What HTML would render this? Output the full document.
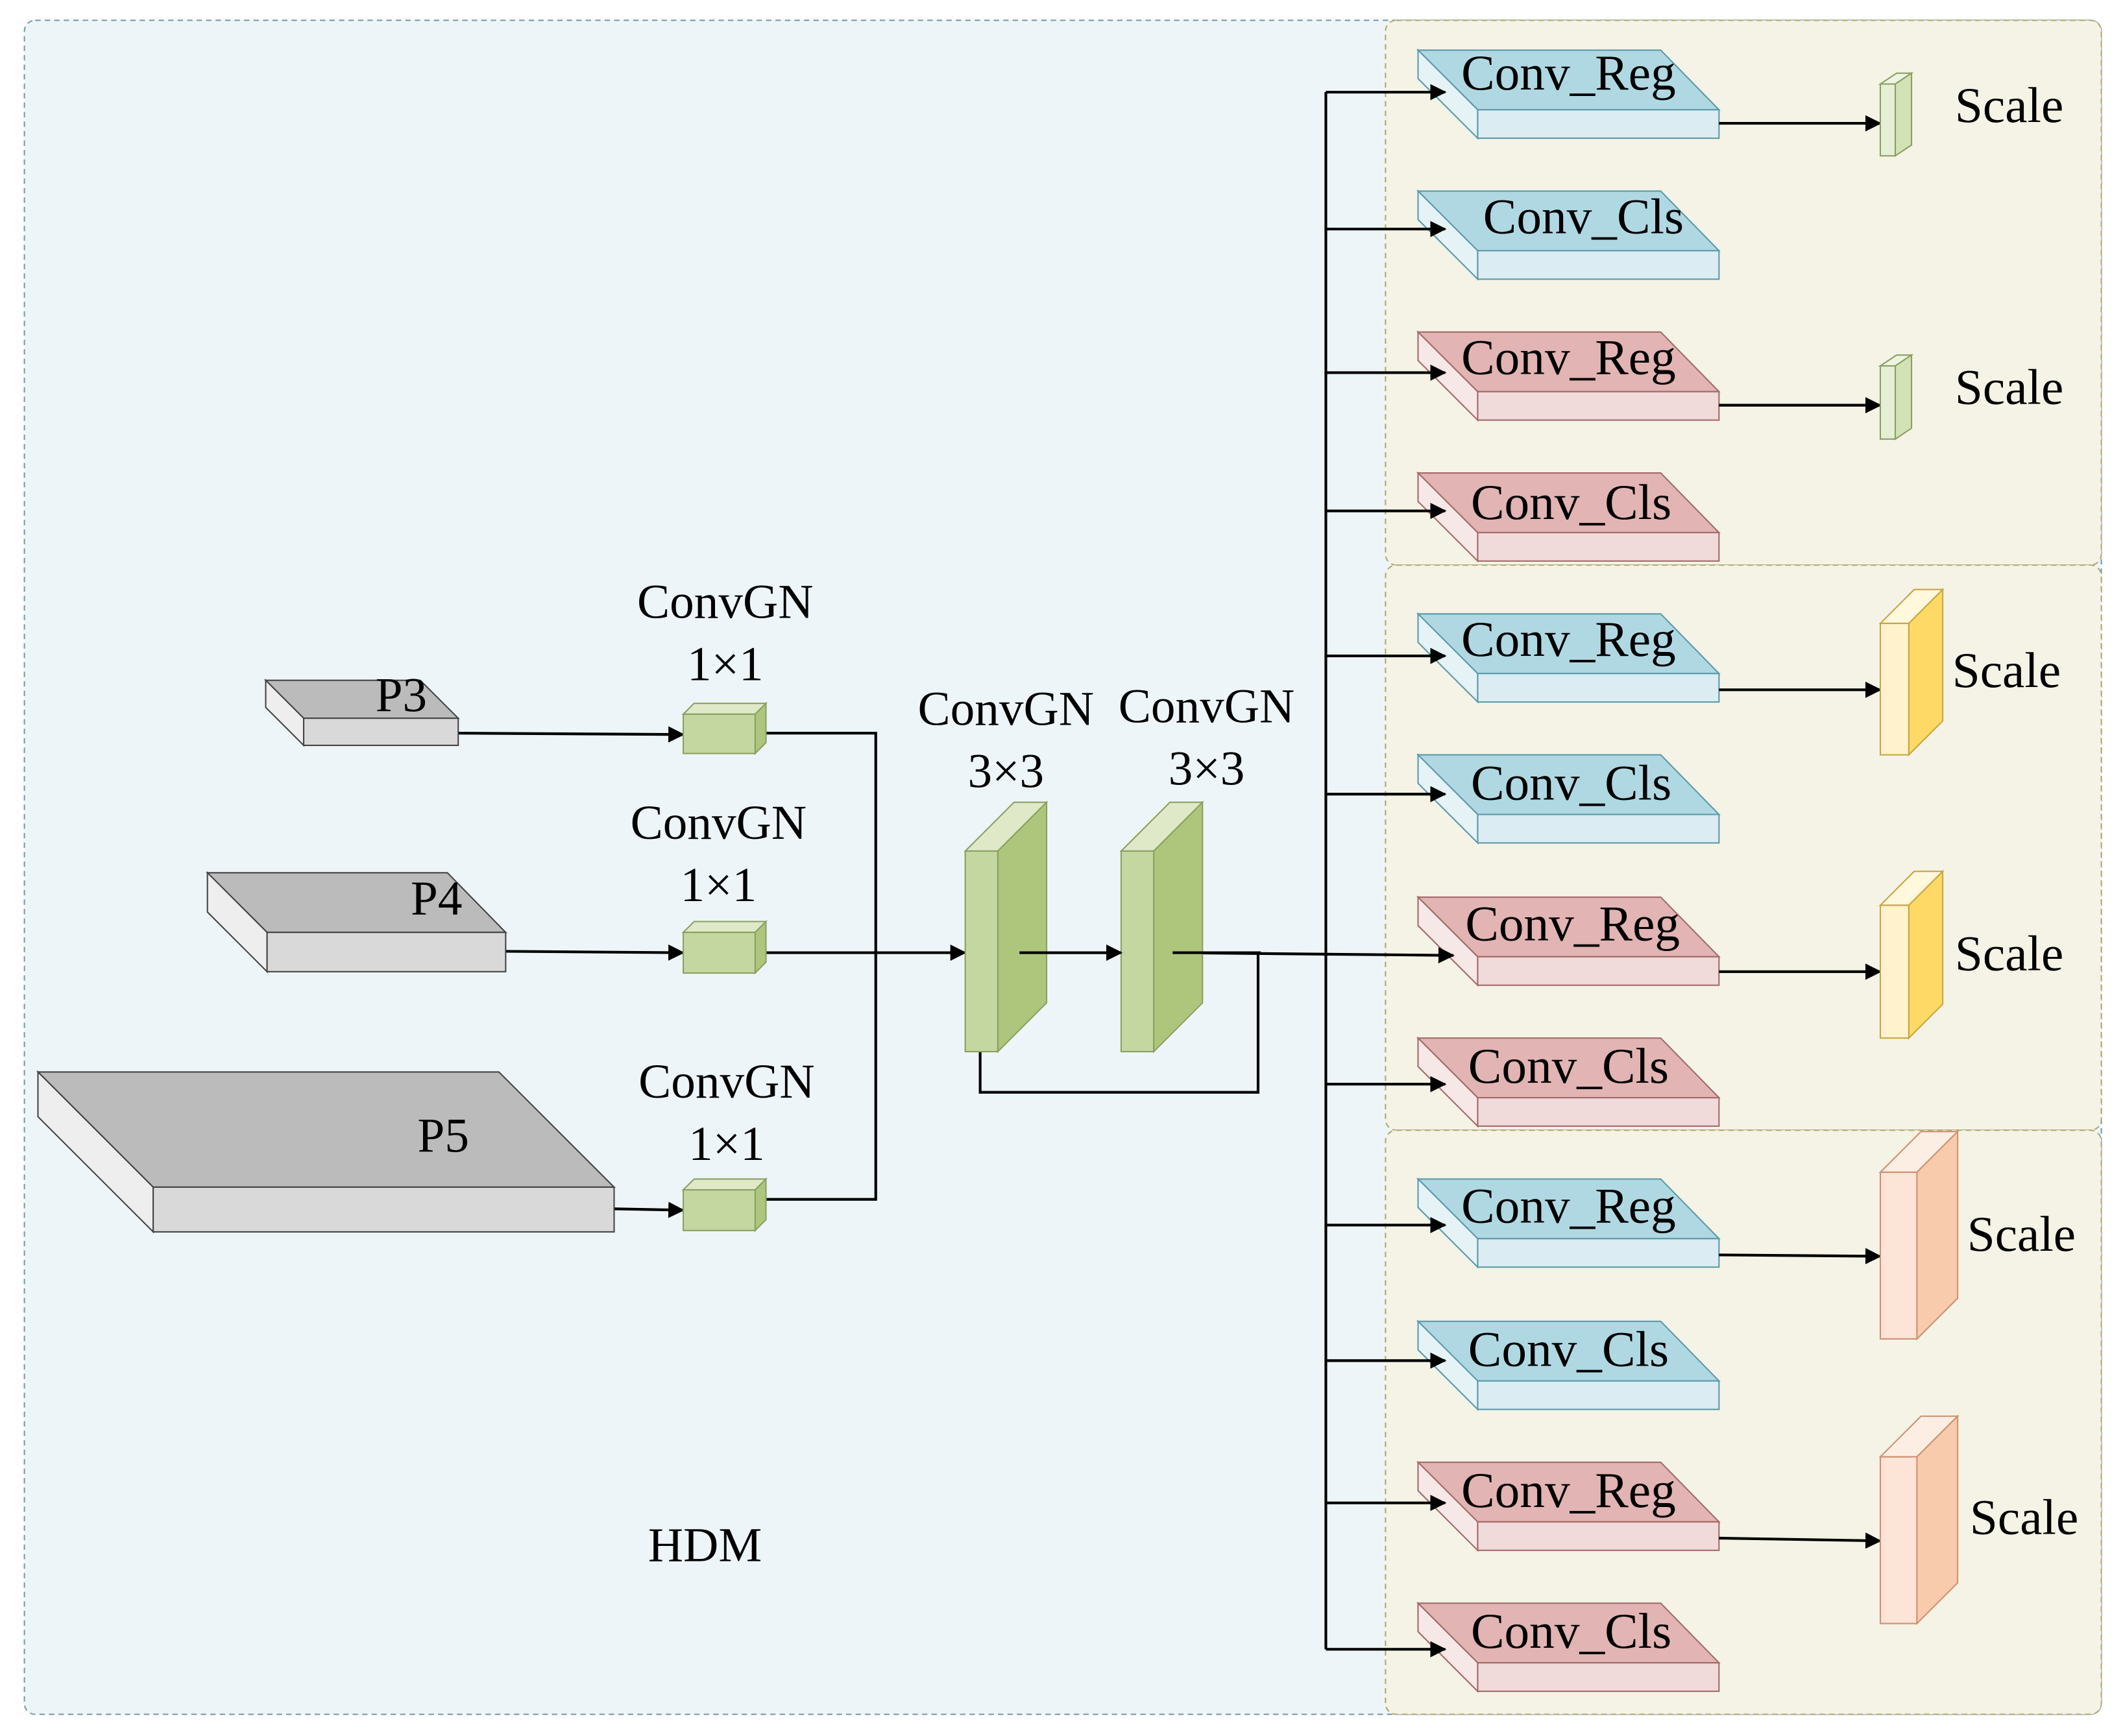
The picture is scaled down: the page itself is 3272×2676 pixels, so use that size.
<!DOCTYPE html>
<html><head><meta charset="utf-8"><style>
html,body{margin:0;padding:0;background:#fff;}
svg{display:block;}
text{font-family:"Liberation Serif",serif;fill:#000;}
</style></head><body>
<svg width="3272" height="2676" viewBox="0 0 1566 1281" preserveAspectRatio="none" xmlns="http://www.w3.org/2000/svg">
<defs>
<marker id="a" markerUnits="userSpaceOnUse" markerWidth="12" markerHeight="12" refX="11" refY="6" orient="auto">
<path d="M0,0 L12,6 L0,12 Z" fill="#000"/></marker>
<g id="blue"><path d="M1046,37 L1225,37 L1268,81 L1090,81 Z" fill="#b0d8e2" stroke="#5a9aaa" stroke-width="1"/>
<path d="M1046,37 L1090,81 L1090,102 L1046,58 Z" fill="#e6f3f6" stroke="#5a9aaa" stroke-width="1"/>
<rect x="1090" y="81" width="178" height="21" fill="#dbedf2" stroke="#5a9aaa" stroke-width="1"/></g>
<g id="red"><path d="M1046,37 L1225,37 L1268,81 L1090,81 Z" fill="#e2b4b4" stroke="#a46a6a" stroke-width="1"/>
<path d="M1046,37 L1090,81 L1090,102 L1046,58 Z" fill="#f7e8e8" stroke="#a46a6a" stroke-width="1"/>
<rect x="1090" y="81" width="178" height="21" fill="#f0dada" stroke="#a46a6a" stroke-width="1"/></g>
</defs>
<rect x="18" y="15" width="1532" height="1250" rx="8" fill="#eef5f9" stroke="#7a9aaa" stroke-dasharray="4,3"/>
<rect x="1022" y="15" width="528" height="402" rx="8" fill="#f4f3e6" stroke="#b0a870" stroke-dasharray="4,3"/>
<rect x="1022" y="417" width="528" height="417" rx="8" fill="#f4f3e6" stroke="#b0a870" stroke-dasharray="4,3"/>
<rect x="1022" y="834" width="528" height="431" rx="8" fill="#f4f3e6" stroke="#b0a870" stroke-dasharray="4,3"/>

<!-- conv blocks -->
<use href="#blue" y="0"/><use href="#blue" y="104"/><use href="#red" y="208"/><use href="#red" y="312"/>
<use href="#blue" y="416"/><use href="#blue" y="520"/><use href="#red" y="625"/><use href="#red" y="729"/>
<use href="#blue" y="833"/><use href="#blue" y="938"/><use href="#red" y="1042"/><use href="#red" y="1146"/>
<g font-size="37">
<text x="1157" y="66" text-anchor="middle">Conv_Reg</text>
<text x="1168" y="172" text-anchor="middle">Conv_Cls</text>
<text x="1157" y="276" text-anchor="middle">Conv_Reg</text>
<text x="1159" y="383" text-anchor="middle">Conv_Cls</text>
<text x="1157" y="484" text-anchor="middle">Conv_Reg</text>
<text x="1159" y="590" text-anchor="middle">Conv_Cls</text>
<text x="1160" y="694" text-anchor="middle">Conv_Reg</text>
<text x="1157" y="799" text-anchor="middle">Conv_Cls</text>
<text x="1157" y="902" text-anchor="middle">Conv_Reg</text>
<text x="1157" y="1008" text-anchor="middle">Conv_Cls</text>
<text x="1157" y="1112" text-anchor="middle">Conv_Reg</text>
<text x="1159" y="1216" text-anchor="middle">Conv_Cls</text>
</g>

<!-- bus -->
<g stroke="#000" stroke-width="2" fill="none">
<line x1="978" y1="68" x2="978" y2="1217"/>
<line x1="978" y1="68" x2="1066" y2="68" marker-end="url(#a)"/>
<line x1="978" y1="169" x2="1066" y2="169" marker-end="url(#a)"/>
<line x1="978" y1="275" x2="1066" y2="275" marker-end="url(#a)"/>
<line x1="978" y1="377" x2="1066" y2="377" marker-end="url(#a)"/>
<line x1="978" y1="484" x2="1066" y2="484" marker-end="url(#a)"/>
<line x1="978" y1="586" x2="1066" y2="586" marker-end="url(#a)"/>
<line x1="978" y1="800" x2="1066" y2="800" marker-end="url(#a)"/>
<line x1="978" y1="904" x2="1066" y2="904" marker-end="url(#a)"/>
<line x1="978" y1="1004" x2="1066" y2="1004" marker-end="url(#a)"/>
<line x1="978" y1="1109" x2="1066" y2="1109" marker-end="url(#a)"/>
<line x1="978" y1="1217" x2="1066" y2="1217" marker-end="url(#a)"/>
<line x1="865" y1="703" x2="1072" y2="705" marker-end="url(#a)"/>
<polyline points="928,703 928,806 723,806 723,776"/>
<!-- scale arrows -->
<line x1="1268" y1="91" x2="1387" y2="91" marker-end="url(#a)"/>
<line x1="1268" y1="299" x2="1387" y2="299" marker-end="url(#a)"/>
<line x1="1268" y1="509" x2="1387" y2="509" marker-end="url(#a)"/>
<line x1="1268" y1="717" x2="1387" y2="717" marker-end="url(#a)"/>
<line x1="1268" y1="926" x2="1387" y2="927" marker-end="url(#a)"/>
<line x1="1268" y1="1135" x2="1387" y2="1137" marker-end="url(#a)"/>
<!-- left -->
<line x1="338" y1="541" x2="504" y2="542" marker-end="url(#a)"/>
<line x1="373" y1="702" x2="504" y2="703" marker-end="url(#a)"/>
<line x1="453" y1="892" x2="504" y2="893" marker-end="url(#a)"/>
<polyline points="565,541 646,541 646,885 565,885"/>
<line x1="565" y1="703" x2="712" y2="703" marker-end="url(#a)"/>
<line x1="752" y1="703" x2="827" y2="703" marker-end="url(#a)"/>
</g>

<!-- scale blocks -->
<g stroke-width="1">
<path d="M1387,62 L1399,54 L1410,54 L1398,62 Z" fill="#eef3e2" stroke="#8aa060"/>
<path d="M1398,62 L1410,54 L1410,107 L1398,115 Z" fill="#d3e2b4" stroke="#8aa060"/>
<rect x="1387" y="62" width="11" height="53" fill="#e6efd6" stroke="#8aa060"/>
<path d="M1387,270 L1399,262 L1410,262 L1398,270 Z" fill="#eef3e2" stroke="#8aa060"/>
<path d="M1398,270 L1410,262 L1410,316 L1398,324 Z" fill="#d3e2b4" stroke="#8aa060"/>
<rect x="1387" y="270" width="11" height="54" fill="#e6efd6" stroke="#8aa060"/>

<path d="M1387,460 L1412,435 L1433,435 L1408,460 Z" fill="#fff8dc" stroke="#c8a640"/>
<path d="M1408,460 L1433,435 L1433,532 L1408,557 Z" fill="#ffd966" stroke="#c8a640"/>
<rect x="1387" y="460" width="21" height="97" fill="#fff2cc" stroke="#c8a640"/>
<path d="M1387,668 L1412,643 L1433,643 L1408,668 Z" fill="#fff8dc" stroke="#c8a640"/>
<path d="M1408,668 L1433,643 L1433,741 L1408,766 Z" fill="#ffd966" stroke="#c8a640"/>
<rect x="1387" y="668" width="21" height="98" fill="#fff2cc" stroke="#c8a640"/>

<path d="M1387,865 L1417,835 L1444,835 L1414,865 Z" fill="#fdeee4" stroke="#d09070"/>
<path d="M1414,865 L1444,835 L1444,958 L1414,988 Z" fill="#f8cbad" stroke="#d09070"/>
<rect x="1387" y="865" width="27" height="123" fill="#fce4d6" stroke="#d09070"/>
<path d="M1387,1075 L1417,1045 L1444,1045 L1414,1075 Z" fill="#fdeee4" stroke="#d09070"/>
<path d="M1414,1075 L1444,1045 L1444,1168 L1414,1198 Z" fill="#f8cbad" stroke="#d09070"/>
<rect x="1387" y="1075" width="27" height="123" fill="#fce4d6" stroke="#d09070"/>
</g>
<g font-size="37">
<text x="1442" y="90">Scale</text>
<text x="1442" y="298">Scale</text>
<text x="1440" y="507">Scale</text>
<text x="1442" y="716">Scale</text>
<text x="1451" y="923">Scale</text>
<text x="1453" y="1132">Scale</text>
</g>

<!-- P blocks -->
<g stroke="#444" stroke-width="1">
<path d="M196,502 L310,502 L338,530 L224,530 Z" fill="#bbbbbb"/>
<path d="M196,502 L224,530 L224,550 L196,522 Z" fill="#eeeeee"/>
<rect x="224" y="530" width="114" height="20" fill="#d9d9d9"/>
<path d="M153,644 L330,644 L373,688 L197,688 Z" fill="#bbbbbb"/>
<path d="M153,644 L197,688 L197,717 L153,673 Z" fill="#eeeeee"/>
<rect x="197" y="688" width="176" height="29" fill="#d9d9d9"/>
<path d="M28,791 L368,791 L453,876 L113,876 Z" fill="#bbbbbb"/>
<path d="M28,791 L113,876 L113,909 L28,824 Z" fill="#eeeeee"/>
<rect x="113" y="876" width="340" height="33" fill="#d9d9d9"/>
</g>
<g font-size="36">
<text x="296" y="525" text-anchor="middle">P3</text>
<text x="322" y="675" text-anchor="middle">P4</text>
<text x="327" y="850" text-anchor="middle">P5</text>
</g>

<!-- small green cubes -->
<g stroke="#8aa060" stroke-width="1">
<path d="M504,527 L512,519 L565,519 L557,527 Z" fill="#dfe9c8"/>
<path d="M557,527 L565,519 L565,548 L557,556 Z" fill="#aec67c"/>
<rect x="504" y="527" width="53" height="29" fill="#c5d7a0"/>
<path d="M504,688 L512,680 L565,680 L557,688 Z" fill="#dfe9c8"/>
<path d="M557,688 L565,680 L565,710 L557,718 Z" fill="#aec67c"/>
<rect x="504" y="688" width="53" height="30" fill="#c5d7a0"/>
<path d="M504,878 L512,870 L565,870 L557,878 Z" fill="#dfe9c8"/>
<path d="M557,878 L565,870 L565,900 L557,908 Z" fill="#aec67c"/>
<rect x="504" y="878" width="53" height="30" fill="#c5d7a0"/>
<!-- big green -->
<path d="M712,628 L748,592 L772,592 L736,628 Z" fill="#dfe9c8"/>
<path d="M736,628 L772,592 L772,740 L736,776 Z" fill="#aec67c"/>
<rect x="712" y="628" width="24" height="148" fill="#c5d7a0"/>
<path d="M827,628 L863,592 L887,592 L851,628 Z" fill="#dfe9c8"/>
<path d="M851,628 L887,592 L887,740 L851,776 Z" fill="#aec67c"/>
<rect x="827" y="628" width="24" height="148" fill="#c5d7a0"/>
</g>
<line x1="752" y1="703" x2="827" y2="703" stroke="#000" stroke-width="2" marker-end="url(#a)"/>
<line x1="865" y1="703" x2="930" y2="703" stroke="#000" stroke-width="2"/>

<g font-size="36" text-anchor="middle">
<text x="535" y="456">ConvGN</text><text x="535" y="502">1×1</text>
<text x="530" y="619">ConvGN</text><text x="530" y="665">1×1</text>
<text x="536" y="810">ConvGN</text><text x="536" y="856">1×1</text>
<text x="742" y="535">ConvGN</text><text x="742" y="581">3×3</text>
<text x="890" y="533">ConvGN</text><text x="890" y="579">3×3</text>
<text x="520" y="1152">HDM</text>
</g>
</svg>
</body></html>
